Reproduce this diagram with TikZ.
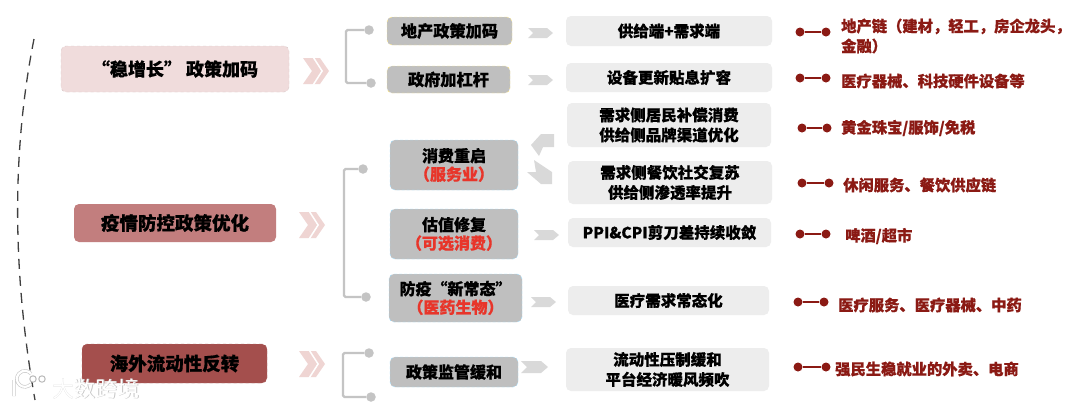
\documentclass[tikz,border=0pt]{standalone}
\usepackage{fontspec}
\setmainfont{Noto Sans CJK SC}[BoldFeatures={FakeBold=0.6}]
\usetikzlibrary{calc}
\definecolor{dred}{HTML}{8B1A14}
\definecolor{brk}{HTML}{C4C4C4}
\definecolor{midg}{HTML}{BFBFBF}
\definecolor{ltg}{HTML}{EDEDED}
\definecolor{pinkA}{HTML}{F0DCDC}
\definecolor{roseB}{HTML}{C27E7E}
\definecolor{redC}{HTML}{A44F4D}
\definecolor{chev}{HTML}{EFD5D3}
\definecolor{arr}{HTML}{D9D9D9}
\definecolor{hot}{HTML}{E8352A}
\tikzset{
  x=1pt,y=-1pt,
  base/.style={rounded corners=5pt,inner sep=0pt,align=center,font=\bfseries\fontsize{15.5}{20}\selectfont,text=black},
  lefta/.style={base,fill=pinkA,draw=pinkA!80!gray,dashed,font=\bfseries\fontsize{18}{20}\selectfont},
  leftb/.style={base,fill=roseB,font=\bfseries\fontsize{18.5}{20}\selectfont},
  leftc/.style={base,fill=redC,draw=redC!80!white,dashed,font=\bfseries\fontsize{18.5}{20}\selectfont},
  midy/.style={base,fill=midg,draw=yellow!70!orange!45,densely dashed,font=\bfseries\fontsize{16.2}{17}\selectfont},
  midb/.style={base,fill=midg,draw=blue!35!cyan!35,densely dashed,font=\bfseries\fontsize{16}{18.5}\selectfont},
  rgt/.style={base,fill=ltg},
  dotg/.style={circle,fill=brk,inner sep=0pt,minimum size=9.5pt},
  dotr/.style={circle,fill=dred,inner sep=0pt,minimum size=9pt},
  brack/.style={draw=brk,line width=2.4pt,rounded corners=1.5pt},
  redl/.style={draw=dred,line width=2pt},
  lab/.style={anchor=west,inner sep=0pt,align=left,text=dred,font=\bfseries\fontsize{15.3}{20}\selectfont},
}
\newcommand{\bx}[7]{\node[#2,minimum width=#5pt-#3pt,minimum height=#6pt-#4pt] (#1) at ({(#3+#5)/2},{(#4+#6)/2}) {#7};}
\newcommand{\chevs}[2]{\begin{scope}[shift={(#1,#2)}]
 \fill[chev] (0,-13)--(10,-13)--(19,0)--(10,13)--(0,13)--(9,0)--cycle;
 \fill[chev] (10,-13)--(17,-13)--(26,0)--(17,13)--(10,13)--(19,0)--cycle;
 \fill[white] (9.2,-14)--(11,-14)--(20,0)--(11,14)--(9.2,14)--(18.2,0)--cycle;
\end{scope}}
\newcommand{\penta}[2]{\fill[arr] (#1,#2-5)--(#1+19,#2-5)--(#1+25,#2)--(#1+19,#2+5)--(#1,#2+5)--(#1+5,#2)--cycle;}
\newcommand{\dumb}[5]{\node[dotr] (#1a) at (#2,#4) {};\node[dotr] (#1b) at (#3,#4) {};\draw[redl] (#1a)--(#1b);#5}
\newcommand{\red}[1]{{\color{hot}#1}}
\begin{document}
\begin{tikzpicture}
\useasboundingbox (0,0) rectangle (1080,408);
\fill[white] (0,0) rectangle (1080,408);
% dashed arc
\coordinate (arcT) at (34,39);
\coordinate (arcB) at (35,400);
\draw[black!75,line width=1.3pt,dash pattern=on 10pt off 7pt] (arcT) .. controls (12,150) and (12,270) .. (arcB);
% left
\bx{A}{lefta}{61}{46}{289}{92}{“稳增长”\ 政策加码}
\bx{B}{leftb}{74}{204}{276}{242}{疫情防控政策优化}
\bx{C}{leftc}{82}{344}{267}{383}{海外流动性反转}
\chevs{303}{71}
\chevs{299}{225}
\chevs{299}{364}
% brackets
\node[dotg] (d1) at (369,30) {};
\node[dotg] (d2) at (371,83) {};
\draw[brack] (d1) -- (346,30) -- (346,83) -- (d2);
\node[dotg] (d3) at (363,169) {};
\node[dotg] (d4) at (366,297) {};
\draw[brack] (d3) -- (344,169) -- (344,297) -- (d4);
\node[dotg] (d5) at (369,353) {};
\node[dotg] (d6) at (371,397) {};
\draw[brack] (d5) -- (343,353) -- (343,397) -- (d6);
% middle
\bx{M1}{midy}{387}{17}{512}{45}{地产政策加码}
\bx{M2}{midy}{387}{66}{510}{93}{政府加杠杆}
\bx{M3}{midb}{390}{140}{518}{190}{消费重启\\\red{（服务业）}}
\bx{M4}{midb}{390}{209}{518}{259}{估值修复\\\red{（可选消费）}}
\bx{M5}{midb}{389}{274}{522}{322}{防疫“新常态”\\\red{（医药生物）}}
\bx{M6}{midb}{390}{357}{518}{387}{政策监管缓和}
% arrows
\penta{528}{33}
\penta{528}{80}
\fill[arr] (554,134)--(554,147)--(543,147)--(539,156)--(531,145)--(541,134)--cycle;
\fill[arr] (534,160)--(552,172)--(552,184)--(541,184)--(527,172)--(536,172)--cycle;
\penta{534}{235}
\penta{531}{302}
\fill[arr] (521,361)--(541,361)--(548,367)--(541,373)--(521,373)--(527,367)--cycle;
% right
\bx{R1}{rgt}{566}{16}{772}{46}{供给端+需求端}
\bx{R2}{rgt}{566}{63}{772}{92}{设备更新贴息扩容}
\bx{R3}{rgt}{567}{103}{771}{147}{需求侧居民补偿消费\\供给侧品牌渠道优化}
\bx{R4}{rgt}{568}{161}{772}{204}{需求侧餐饮社交复苏\\供给侧渗透率提升}
\bx{R5}{rgt}{568}{218}{771}{247}{PPI\&CPI剪刀差持续收敛}
\bx{R6}{rgt}{568}{286}{769}{315}{医疗需求常态化}
\bx{R7}{rgt}{566}{348}{769}{391}{流动性压制缓和\\平台经济暖风频吹}
% dumbbells
\dumb{e1}{800}{826}{32}{\node[lab] (L1) at (841,36) {地产链（建材，轻工，房企龙头，\\金融）};}
\dumb{e2}{800}{826}{78}{\node[lab] (L2) at (841,81) {医疗器械、科技硬件设备等};}
\dumb{e3}{802}{827}{128}{\node[lab] (L3) at (841,128) {黄金珠宝/服饰/免税};}
\dumb{e4}{802}{829}{183}{\node[lab] (L4) at (843,185) {休闲服务、餐饮供应链};}
\dumb{e5}{800}{826}{234}{\node[lab] (L5) at (845,236) {啤酒/超市};}
\dumb{e6}{798}{824}{302}{\node[lab] (L6) at (838,305) {医疗服务、医疗器械、中药};}
\dumb{e7}{798}{826}{367}{\node[lab] (L7) at (835,369) {强民生稳就业的外卖、电商};}
% watermark
\draw[gray!45,line width=3.4pt] (14,380)--(14,396) (31,384) arc (40:320:8);
\draw[white,line width=2.2pt] (14,380)--(14,396) (31,384) arc (40:320:8);
\draw[gray!55,line width=1pt,fill=white] (33,379) circle (3.2) (42,379) circle (3.2);
\node[inner sep=0pt,font=\fontsize{22}{22}\selectfont,text=gray!45] (WMs) at (96.5,389.5) {大数跨境};
\node[inner sep=0pt,font=\fontsize{22}{22}\selectfont,text=white] (WM) at (96,389) {大数跨境};
\end{tikzpicture}
\end{document}
